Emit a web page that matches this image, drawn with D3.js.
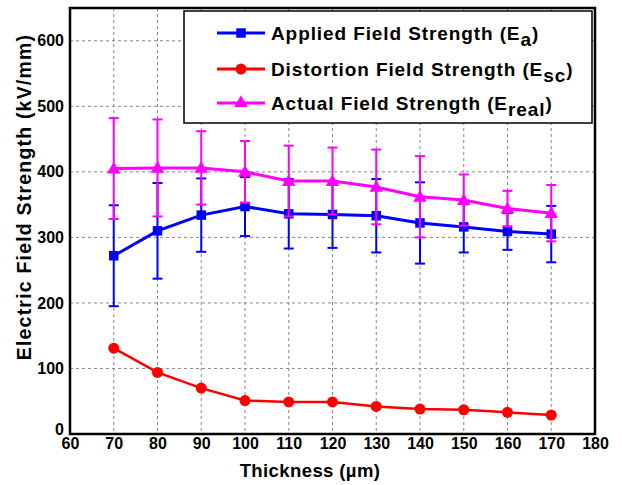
<!DOCTYPE html>
<html><head><meta charset="utf-8">
<script src="https://cdn.jsdelivr.net/npm/d3@7"></script>
<style>body{margin:0;background:#fff;} text{font-family:"Liberation Sans",Arial,sans-serif;font-weight:bold;}</style>
</head><body>
<svg id="c" width="622" height="485"></svg>
<script>
const thickness = [70,80,90,100,110,120,130,140,150,160,170];
const appliedE = [272,310,334,347,336,335,333,322,316,309,305];
const appliedErr = [77,73,56,45,53,51,56,62,39,28,43];
const distortionE = [131,94,70,51,49,49,42,38,37,33,29];
const actualE = [405,406,406,400,386,386,377,362,357,344,337];
const actualErr = [77,74,56,47,54,51,57,62,39,27,43];
const xTicks = [60,70,80,90,100,110,120,130,140,150,160,170,180];
const yTicks = [0,100,200,300,400,500,600];

const svg = d3.select("#c");
const L=70,R=595,T=8,B=434;
const x = d3.scaleLinear().domain([60,180]).range([L,R]);
const y = d3.scaleLinear().domain([0,650]).range([B,T]);

// grid
const g = svg.append("g");
g.selectAll(".gx").data(xTicks.slice(1,-1)).enter().append("line")
 .attr("x1",d=>x(d)).attr("x2",d=>x(d)).attr("y1",T).attr("y2",B)
 .attr("stroke","#888").attr("stroke-width",1).attr("stroke-dasharray","3,3");
g.selectAll(".gy").data(yTicks.slice(1)).enter().append("line")
 .attr("x1",L).attr("x2",R).attr("y1",d=>y(d)).attr("y2",d=>y(d))
 .attr("stroke","#888").attr("stroke-width",1).attr("stroke-dasharray","3,3");

// axes
const xAxis = d3.axisBottom(x).tickValues(xTicks).tickSize(0).tickPadding(4);
const ax = svg.append("g").attr("transform",`translate(0,${B})`).call(xAxis);
ax.select(".domain").remove();
ax.selectAll("text").attr("font-size",16).attr("fill","#000").style("font-family","Liberation Sans, Arial").style("font-weight","bold");
const yAxis = d3.axisLeft(y).tickValues(yTicks).tickSize(0).tickPadding(6);
const ay = svg.append("g").attr("transform",`translate(${L},0)`).call(yAxis);
ay.select(".domain").remove();
ay.selectAll("text").attr("font-size",16).attr("fill","#000").style("font-family","Liberation Sans, Arial").style("font-weight","bold");
ay.selectAll(".tick").filter(d=>d===0).select("text").attr("dy","0.0em");

// frame
svg.append("rect").attr("x",L).attr("y",T).attr("width",R-L).attr("height",B-T)
 .attr("fill","none").attr("stroke","#000").attr("stroke-width",2.5);

// titles
svg.append("text").attr("x",310).attr("y",477).attr("text-anchor","middle").attr("font-size",18.5).attr("letter-spacing",0.4).text("Thickness (µm)");
svg.append("text").attr("transform",`translate(31,197) rotate(-90)`).attr("text-anchor","middle").attr("font-size",19.5).attr("letter-spacing",1.2).text("Electric Field Strength (kV/mm)");

function errBars(vals, errs, color){
  const eg = svg.append("g");
  thickness.forEach((t,i)=>{
    const cx=x(t), y1=y(vals[i]+errs[i]), y2=y(vals[i]-errs[i]);
    eg.append("line").attr("x1",cx).attr("x2",cx).attr("y1",y1).attr("y2",y2).attr("stroke",color).attr("stroke-width",2);
    [y1,y2].forEach(yy=>eg.append("line").attr("x1",cx-5).attr("x2",cx+5).attr("y1",yy).attr("y2",yy).attr("stroke",color).attr("stroke-width",2));
  });
}
function series(vals,color,width){
  const line=d3.line().x((d,i)=>x(thickness[i])).y(d=>y(d));
  svg.append("path").datum(vals).attr("d",line).attr("fill","none").attr("stroke",color).attr("stroke-width",width);
}
const sq = d3.symbol().type(d3.symbolSquare).size(90);
const ci = d3.symbol().type(d3.symbolCircle).size(95);
const tr = d3.symbol().type(d3.symbolTriangle).size(80);

// Applied
errBars(appliedE,appliedErr,"#0000ff");
series(appliedE,"#0000ff",3);
svg.append("g").selectAll("path").data(appliedE).enter().append("path")
 .attr("d",sq).attr("transform",(d,i)=>`translate(${x(thickness[i])},${y(d)})`).attr("fill","#0000ff");
// Distortion
series(distortionE,"#ff0000",2.5);
svg.append("g").selectAll("path").data(distortionE).enter().append("path")
 .attr("d",ci).attr("transform",(d,i)=>`translate(${x(thickness[i])},${y(d)})`).attr("fill","#ff0000");
// Actual
errBars(actualE,actualErr,"#ff00ff");
series(actualE,"#ff00ff",3);
svg.append("g").selectAll("path").data(actualE).enter().append("path")
 .attr("d",tr).attr("transform",(d,i)=>`translate(${x(thickness[i])},${y(d)+1})`).attr("fill","#ff00ff");

// legend
const lg = svg.append("g");
lg.append("rect").attr("x",184).attr("y",11).attr("width",408).attr("height",112).attr("fill","#fff").attr("stroke","#000").attr("stroke-width",1.5);
const items=[
 {c:"#0000ff",sym:sq,main:"Applied Field Strength (E",sub:"a"},
 {c:"#ff0000",sym:ci,main:"Distortion Field Strength (E",sub:"sc"},
 {c:"#ff00ff",sym:tr,main:"Actual Field Strength (E",sub:"real"}
];
const rowY=[33,69,103];
items.forEach((it,i)=>{
  const yy=rowY[i];
  lg.append("line").attr("x1",217).attr("x2",265).attr("y1",yy).attr("y2",yy).attr("stroke",it.c).attr("stroke-width",3);
  lg.append("path").attr("d",it.sym).attr("transform",`translate(241,${yy})`).attr("fill",it.c);
  const t=lg.append("text").attr("x",271).attr("y",yy+7).attr("font-size",19).attr("letter-spacing",0.9);
  t.append("tspan").text(it.main);
  t.append("tspan").attr("dy",6).text(it.sub);
  t.append("tspan").attr("dy",-6).text(")");
});
</script>
</body></html>
